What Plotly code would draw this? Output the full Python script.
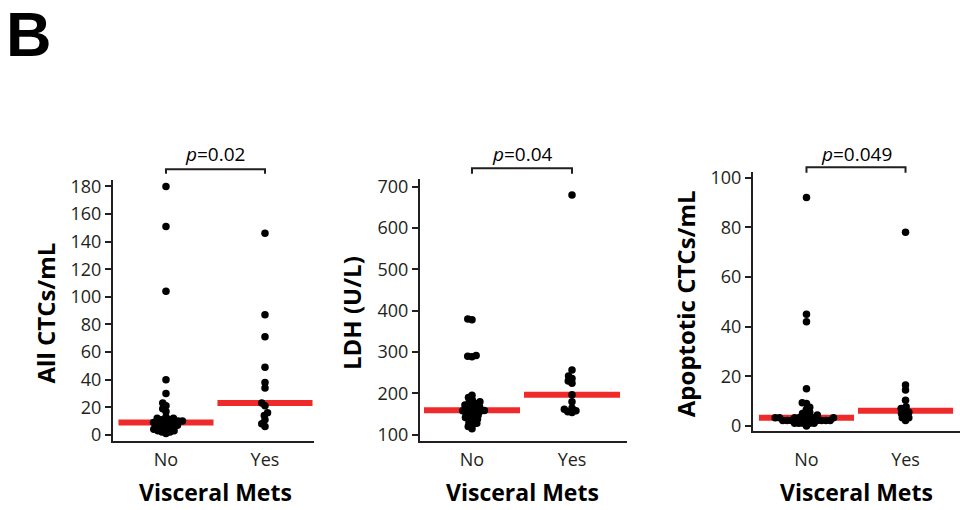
import numpy as np
import plotly.graph_objects as go

# ---- data -------------------------------------------------------------
groups = ["No", "Yes"]

ctc_no = [180, 151, 104, 40, 30, 23, 21, 19, 17, 13, 12, 12, 11, 11, 10, 10, 10,
          9, 9, 9, 8, 8, 7, 7, 6, 6, 5, 5, 4, 4, 3, 3, 2, 2, 1]
ctc_yes = [146, 87, 71, 49, 38, 34, 23, 21, 16, 14, 11, 8, 6]

ldh_no = [380, 378, 292, 290, 289, 196, 190, 185, 180, 178, 175, 172, 170, 168,
          165, 163, 160, 159, 158, 157, 155, 152, 150, 148, 145, 142, 140, 138,
          135, 130, 128, 125, 120, 115]
ldh_yes = [680, 257, 242, 236, 230, 225, 197, 180, 165, 162, 158, 156, 154]

apo_no = [92, 45, 42, 15, 9.3, 9.0, 7.5, 6.5, 5.5, 5.0, 4.4, 4.4,
          3.3, 3.3, 3.3, 3.3, 3.3, 3.3, 3.3, 3.3,
          2.2, 2.2, 2.2, 2.2, 2.2, 2.2, 2.2, 2.2,
          1.1, 1.1, 1.1, 1.1, 1.1, 0.0]
apo_yes = [78, 16.5, 14.5, 10.3, 7.7, 7.0, 6.1, 5.5, 5.0, 4.4, 3.3, 3.3, 2.2]

y_titles = ["All CTCs/mL", "LDH (U/L)", "Apoptotic CTCs/mL"]
p_values = ["0.02", "0.04", "0.049"]
y_tickvals = [list(range(0, 181, 20)), list(range(100, 701, 100)), list(range(0, 101, 20))]
x_title = "Visceral Mets"
panel_letter = "B"

series = [(ctc_no, ctc_yes), (ldh_no, ldh_yes), (apo_no, apo_yes)]

# ---- geometry (pixels in a 960x510 page) --------------------------------
W, H = 960, 510
panels = [
    dict(x0=113, x1=314, yt=178, yb=445, xr=[-0.535, 1.495], yr=[-4.2, 184.3],
         bt=166.5, bb=171, py=151, cat_gap=2),
    dict(x0=420, x1=627, yt=177, yb=445, xr=[-0.52, 1.55], yr=[85.9, 717.5],
         bt=165.5, bb=171, py=151, cat_gap=2),
    dict(x0=753, x1=960, yt=169, yb=435, xr=[-0.54, 1.55], yr=[-2.0, 102.4],
         bt=164.5, bb=170, py=151, cat_gap=11),
]

RED = "#EE2A2A"
AXIS = "#231F20"
FONT = "Open Sans"
MARKER = 7.5
SPACING = 4.3


def swarm(vals, px_per_val, px_per_cat, d):
    """Beeswarm offsets (in category units) so markers do not pile up."""
    vals = np.asarray(vals, dtype=float)
    order = np.argsort(vals, kind="stable")
    placed = []
    offsets = np.zeros(len(vals))
    for i in order:
        y = vals[i] * px_per_val
        cands = [0.0]
        for px, py in placed:
            dy = y - py
            if abs(dy) < d:
                dx = np.sqrt(d * d - dy * dy)
                cands += [px + dx, px - dx]
        cands.sort(key=lambda c: (abs(c), c))
        chosen = 0.0
        for c in cands:
            if all((c - px) ** 2 + (y - py) ** 2 >= d * d - 1e-6 for px, py in placed):
                chosen = c
                break
        placed.append((chosen, y))
        offsets[i] = chosen / px_per_cat
    return offsets


fig = go.Figure()
annotations = []
shapes = []

for k, (p, (vals_no, vals_yes)) in enumerate(zip(panels, series)):
    xa = "x" if k == 0 else f"x{k + 1}"
    ya = "y" if k == 0 else f"y{k + 1}"
    px_per_cat = (p["x1"] - p["x0"]) / (p["xr"][1] - p["xr"][0])
    px_per_val = (p["yb"] - p["yt"]) / (p["yr"][1] - p["yr"][0])

    # median bars drawn first so the points sit on top
    for gi, vals in enumerate((vals_no, vals_yes)):
        med = float(np.median(vals))
        fig.add_trace(go.Scatter(
            x=[gi - 0.48, gi + 0.48], y=[med, med], mode="lines",
            line=dict(color=RED, width=6), xaxis=xa, yaxis=ya,
            hoverinfo="skip", showlegend=False))

    for gi, vals in enumerate((vals_no, vals_yes)):
        offs = swarm(vals, px_per_val, px_per_cat, SPACING)
        fig.add_trace(go.Scatter(
            x=gi + offs, y=vals, mode="markers",
            marker=dict(color="black", size=MARKER, line=dict(width=0)),
            xaxis=xa, yaxis=ya, showlegend=False, cliponaxis=False))

    xdom = [p["x0"] / W, p["x1"] / W]
    ydom = [1 - p["yb"] / H, 1 - p["yt"] / H]
    fig.layout[("xaxis" if k == 0 else f"xaxis{k + 1}")] = dict(
        domain=xdom, range=p["xr"], anchor=ya, tickvals=[0, 1], ticktext=groups,
        showline=True, linecolor=AXIS, linewidth=2, ticks="", showgrid=False,
        zeroline=False, tickfont=dict(family=FONT, size=18, color=AXIS),
        ticklabelstandoff=p["cat_gap"], fixedrange=True)
    fig.layout[("yaxis" if k == 0 else f"yaxis{k + 1}")] = dict(
        domain=ydom, range=p["yr"], anchor=xa, tickvals=y_tickvals[k],
        showline=True, linecolor=AXIS, linewidth=2, ticks="outside", ticklen=6,
        tickwidth=2, tickcolor=AXIS, showgrid=False, zeroline=False,
        tickfont=dict(family=FONT, size=18, color=AXIS), fixedrange=True)

    # significance bracket between the two groups
    bt = 1 - p["bt"] / H
    bb = 1 - p["bb"] / H
    shapes.append(dict(type="path", xref=xa, yref="paper",
                       path=f"M 0,{bb} L 0,{bt} L 1,{bt} L 1,{bb}",
                       line=dict(color=AXIS, width=2)))
    annotations.append(dict(x=0.5, xref=xa, y=1 - p["py"] / H, yref="paper",
                            text="<i>p</i>=" + p_values[k], showarrow=False,
                            font=dict(family=FONT, size=19, color="black"),
                            xanchor="center", yanchor="middle"))

    # axis titles
    annotations.append(dict(x=0.5, xref=xa, y=1 - 498 / H, yref="paper",
                            text=f"<b>{x_title}</b>", showarrow=False,
                            font=dict(family=FONT, size=23, color="black"),
                            xanchor="center", yanchor="middle"))
    ycenter = (p["yt"] + p["yb"]) / 2 + 3
    annotations.append(dict(x=(p["x0"] - 68) / W, xref="paper", y=1 - ycenter / H,
                            yref="paper", text=f"<b>{y_titles[k]}</b>",
                            showarrow=False, textangle=-90,
                            font=dict(family=FONT, size=24, color="black"),
                            xanchor="center", yanchor="middle"))

annotations.append(dict(x=5 / W, xref="paper", y=1, yref="paper", yshift=9,
                        text=f"<b>{panel_letter}</b>", showarrow=False, borderpad=0,
                        font=dict(family="Liberation Sans", size=63, color="black"),
                        xanchor="left", yanchor="top"))

fig.update_layout(
    width=W, height=H, margin=dict(l=0, r=0, t=0, b=0),
    paper_bgcolor="white", plot_bgcolor="white",
    annotations=annotations, shapes=shapes, showlegend=False,
    font=dict(family=FONT),
)

fig.write_html("out.html", config={"displayModeBar": False})
